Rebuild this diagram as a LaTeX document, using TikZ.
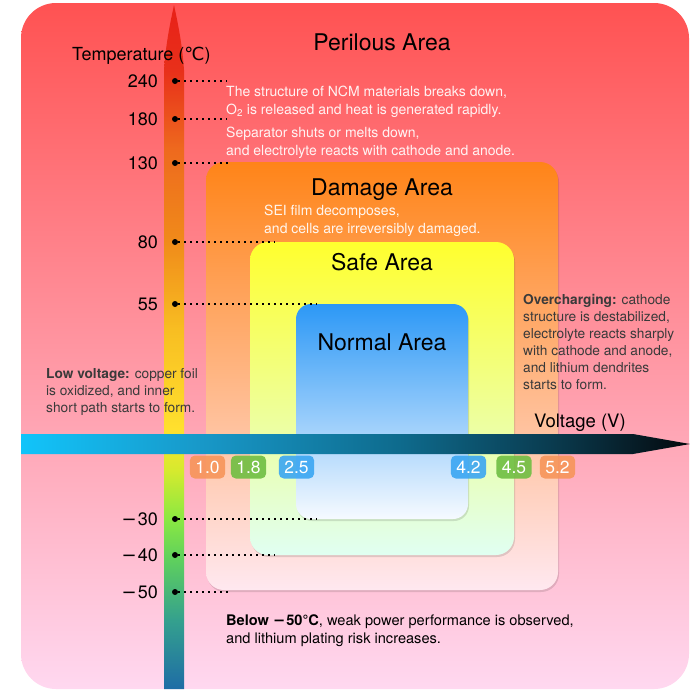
\documentclass[tikz,border=0pt]{standalone}
\usepackage{fontspec}
\setmainfont{TeX Gyre Heros}
\newfontfamily\symbolfont{DejaVu Sans}
\newcommand{\longminus}{{\symbolfont −}\kern1pt}

\definecolor{perilTop}{HTML}{FF5252}
\definecolor{perilBot}{HTML}{FFD8F0}
\definecolor{damageTop}{HTML}{FF8418}
\definecolor{damageBot}{HTML}{FFE8F0}
\definecolor{safeTop}{HTML}{FFFF2E}
\definecolor{safeBot}{HTML}{E0FFF2}
\definecolor{normalTop}{HTML}{2C98F6}
\definecolor{normalBot}{HTML}{F6FAFF}
\definecolor{noteGray}{HTML}{3A3A3A}
\definecolor{badgeOrange}{HTML}{F7955A}
\definecolor{badgeGreen}{HTML}{6FBE42}
\definecolor{badgeBlue}{HTML}{3AA6F2}
% temperature bar colours
\definecolor{tA}{HTML}{1E6CA6}
\definecolor{tB}{HTML}{34A08E}
\definecolor{tC}{HTML}{5ECF5E}
\definecolor{tD}{HTML}{8AE842}
\definecolor{tE}{HTML}{D6EA2E}
\definecolor{tF}{HTML}{FFE02E}
\definecolor{tG}{HTML}{F8BE22}
\definecolor{tH}{HTML}{F08A1A}
\definecolor{tI}{HTML}{EE6A1E}
\definecolor{tJ}{HTML}{E8301A}
\definecolor{tK}{HTML}{E82018}
% voltage bar colours
\definecolor{vA}{HTML}{12C4FA}
\definecolor{vB}{HTML}{1898C8}
\definecolor{vC}{HTML}{0E6A8C}
\definecolor{vD}{HTML}{0A3C50}
\definecolor{vE}{HTML}{04080C}

\pgfdeclareverticalshading{tempshade}{100bp}{color(0bp)=(tA); color(25bp)=(tA);
  color(30bp)=(tB); color(34.4bp)=(tC); color(37.4bp)=(tD); color(41bp)=(tE);
  color(44bp)=(tF); color(51.2bp)=(tG); color(57.8bp)=(tH); color(64.4bp)=(tI);
  color(70.2bp)=(tJ); color(75bp)=(tK); color(100bp)=(tK)}
\pgfdeclarehorizontalshading{voltshade}{100bp}{color(0bp)=(vA); color(25bp)=(vA);
  color(38.5bp)=(vB); color(53.5bp)=(vC); color(64.5bp)=(vD); color(75bp)=(vE);
  color(100bp)=(vE)}

\begin{document}
\begin{tikzpicture}[x=1pt,y=-1pt,
  area label/.style={font=\fontsize{23}{26}\selectfont,anchor=base},
  white note/.style={font=\fontsize{14}{17.5}\selectfont,text=white,text opacity=.92,align=left,anchor=north west,inner sep=0pt},
  dark note/.style={font=\fontsize{13.7}{17}\selectfont,text=noteGray,align=left,anchor=north west,inner sep=0pt},
  tick dot/.style={circle,fill=black,inner sep=0pt,minimum size=6pt},
  tick label/.style={font=\fontsize{18}{20}\selectfont,anchor=east,inner sep=0pt},
  tick line/.style={line width=1.8pt,dash pattern=on 1.6pt off 4.4pt},
  badge/.style={rounded corners=5pt,text=white,font=\fontsize{17.5}{18}\selectfont,minimum height=23pt,inner xsep=5.5pt,fill opacity=.9,text opacity=1},
  shadow/.style={fill=black,opacity=.12}]
\useasboundingbox (0,0) rectangle (696,689);

% areas
\shade[top color=perilTop,bottom color=perilBot,rounded corners=35pt] (21,3) rectangle (689,689);
\fill[shadow,rounded corners=18pt] (207,164) rectangle (559,592);
\shade[top color=damageTop,bottom color=damageBot,rounded corners=18pt] (206,162) rectangle (558,590);
\fill[shadow,rounded corners=18pt] (251,244) rectangle (515,557);
\shade[top color=safeTop,bottom color=safeBot,rounded corners=18pt] (250,242) rectangle (514,555);
\fill[shadow,rounded corners=15pt] (297,306) rectangle (469,521);
\shade[top color=normalTop,bottom color=normalBot,rounded corners=15pt] (296,304) rectangle (468,519);

\node[area label] (peril) at (382,50) {Perilous Area};
\node[area label] (damage) at (382,195) {Damage Area};
\node[area label] (safe) at (382,270) {Safe Area};
\node[area label] (normal) at (382,350) {Normal Area};

% temperature axis
\shade[shading=tempshade] (164,689) -- (164,70) .. controls (166,40) and (172,15) .. (174,5)
  .. controls (176,15) and (182,40) .. (184,70) -- (184,689) -- cycle;
\node[font=\fontsize{18}{20}\selectfont,anchor=base west,inner sep=0pt] (tempname) at (72,60)
  {Temperature ({\symbolfont ℃})};

\foreach \t/\y/\e in {240/81/227,180/119/227,130/163/228,80/242/275,55/304/317,
    \longminus30/519/317,\longminus40/555/275,\longminus50/592/228}{
  \node[tick dot] (d\y) at (175,\y) {};
  \node[tick label] (l\y) at (158,\y) {\t};
  \coordinate (e\y) at (\e,\y);
  \draw[tick line] (d\y) -- (e\y);
}

% voltage axis
\shade[shading=voltshade] (21,434) -- (633,434) -- (690,444) -- (633,454) -- (21,454) -- cycle;
\node[font=\fontsize{18.5}{20}\selectfont,anchor=base west,inner sep=0pt] (voltname) at (534,427) {Voltage (V)};

\node[badge,fill=badgeOrange] (v10) at (207.5,467) {1.0};
\node[badge,fill=badgeGreen] (v18) at (248.5,467) {1.8};
\node[badge,fill=badgeBlue] (v25) at (296.5,467) {2.5};
\node[badge,fill=badgeBlue] (v42) at (468.5,467) {4.2};
\node[badge,fill=badgeGreen] (v45) at (514,467) {4.5};
\node[badge,fill=badgeOrange] (v52) at (557.5,467) {5.2};

% notes
\node[white note] (ncm) at (226,86) {The structure of NCM materials breaks down,\\O\textsubscript{2} is released and heat is generated rapidly.};
\node[white note] (sep) at (226,127) {Separator shuts or melts down,\\and electrolyte reacts with cathode and anode.};
\node[white note] (sei) at (264,205) {SEI film decomposes,\\and cells are irreversibly damaged.};
\node[dark note] (over) at (523,294) {\textbf{Overcharging:} cathode\\structure is destabilized,\\electrolyte reacts sharply\\with cathode and anode,\\and lithium dendrites\\starts to form.};
\node[dark note] (low) at (46,368) {\textbf{Low voltage:} copper foil\\is oxidized, and inner\\short path starts to form.};
\node[dark note,text=black,font=\fontsize{14.6}{18}\selectfont] (below) at (226,614) {\textbf{Below \longminus50°C}, weak power performance is observed,\\and lithium plating risk increases.};
\end{tikzpicture}
\end{document}
